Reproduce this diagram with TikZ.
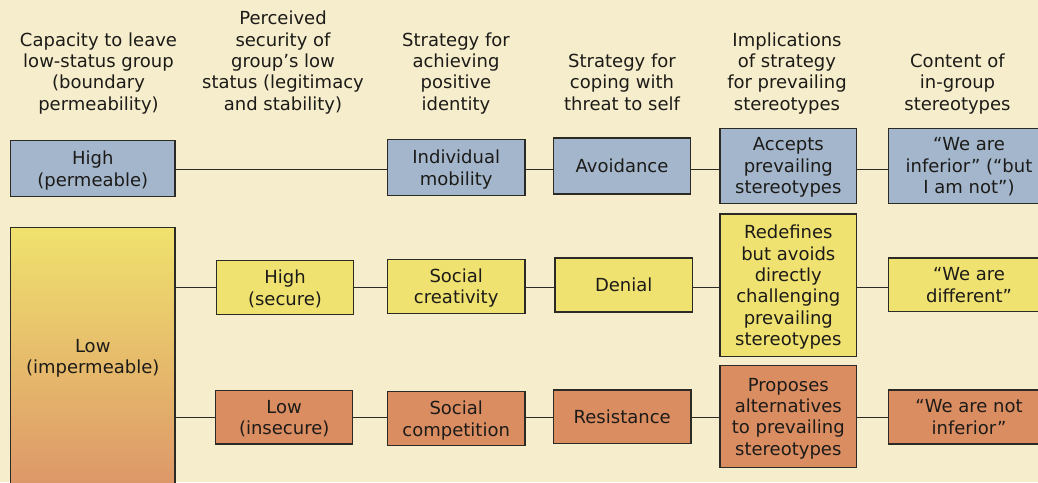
\documentclass[tikz,border=0pt]{standalone}
\usepackage{fontspec}
\setmainfont{DejaVu Sans}
\definecolor{paper}{HTML}{F5EDCB}
\definecolor{ink}{HTML}{1C1B18}
\definecolor{edge}{HTML}{2B2A24}
\definecolor{bluefill}{HTML}{A3B6CC}
\definecolor{yellowfill}{HTML}{F0E270}
\definecolor{orangefill}{HTML}{DB8D62}
\definecolor{gradtop}{HTML}{F0E26E}
\definecolor{gradbottom}{HTML}{DD9769}
\begin{document}
\begin{tikzpicture}[x=1pt,y=-1pt,
  font=\fontsize{18}{21.4}\selectfont,
  every node/.style={text=ink},
  head/.style={align=center, inner sep=0pt},
  box/.style={draw=edge, line width=1.4pt, inner sep=0pt, align=center, text depth=0pt},
  bluebox/.style={box, fill=bluefill},
  yellowbox/.style={box, fill=yellowfill},
  orangebox/.style={box, fill=orangefill},
  link/.style={draw=edge, line width=1.2pt}]
\useasboundingbox (0,0) rectangle (1038,482);
\fill[paper] (0,0) rectangle (1038,482);

% column headings
\node[head] (h1) at (98.5,73.3) {Capacity to leave\\low-status group\\(boundary\\permeability)};
\node[head] (h2) at (283,62.6) {Perceived\\security of\\group’s low\\status (legitimacy\\and stability)};
\node[head] (h3) at (456,73.3) {Strategy for\\achieving\\positive\\identity};
\node[head] (h4) at (622,81.9) {Strategy for\\coping with\\threat to self};
\node[head] (h5) at (787,73.3) {Implications\\of strategy\\for prevailing\\stereotypes};
\node[head] (h6) at (957.5,84) {Content of\\in-group\\stereotypes};

% row heights of the connectors
\coordinate (r1) at (0,169.5);
\coordinate (r2) at (0,287.3);
\coordinate (r3) at (0,417.3);

\begin{scope}
\clip (0,0) rectangle (1038,482);
% boundary permeability
\node[bluebox, minimum width=164.5pt, minimum height=56.4pt] (hp) at (92.75,168.5) {High\\(permeable)};
\node[box, top color=gradtop, bottom color=gradbottom, minimum width=164.5pt, minimum height=259pt] (li) at (92.75,356.7) {Low\\(impermeable)};
% security of status
\node[yellowbox, minimum width=136.6pt, minimum height=53.6pt] (hs) at (285,287.5) {High\\(secure)};
\node[orangebox, minimum width=137pt, minimum height=53.3pt] (ls) at (284.2,417.3) {Low\\(insecure)};
% identity strategy
\node[bluebox, minimum width=137.7pt, minimum height=56.4pt] (im) at (456.2,167.5) {Individual\\mobility};
\node[yellowbox, minimum width=137.7pt, minimum height=54pt] (sc) at (456.2,286.3) {Social\\creativity};
\node[orangebox, minimum width=137.7pt, minimum height=53.6pt] (scp) at (456.2,418.5) {Social\\competition};
% coping with threat
\node[bluebox, minimum width=137.4pt, minimum height=56pt] (av) at (622,166) {Avoidance};
\node[yellowbox, minimum width=137.3pt, minimum height=54pt] (de) at (623.7,285) {Denial};
\node[orangebox, minimum width=137.7pt, minimum height=53.7pt] (re) at (622.2,416.85) {Resistance};
% implications for stereotypes
\node[bluebox, minimum width=136.7pt, minimum height=75pt] (ap) at (788.3,165.8) {Accepts\\prevailing\\stereotypes};
\node[yellowbox, minimum width=136.7pt, minimum height=142.7pt] (rd) at (788.3,285.3) {Redefines\\but avoids\\directly\\challenging\\prevailing\\stereotypes};
\node[orangebox, minimum width=136.7pt, minimum height=102pt] (pa) at (788.3,416.7) {Proposes\\alternatives\\to prevailing\\stereotypes};
% in-group stereotypes
\node[bluebox, minimum width=161.4pt, minimum height=75pt] (wi) at (969,165.8) {“We are\\inferior” (“but\\I am not”)};
\node[yellowbox, minimum width=161.4pt, minimum height=53.7pt] (wd) at (969,284.85) {“We are\\different”};
\node[orangebox, minimum width=161.4pt, minimum height=54pt] (wn) at (969,417) {“We are not\\inferior”};
\end{scope}

% connectors
\path[link] (hp.east |- r1) -- (im.west |- r1);
\path[link] (im.east |- r1) -- (av.west |- r1);
\path[link] (av.east |- r1) -- (ap.west |- r1);
\path[link] (ap.east |- r1) -- (wi.west |- r1);

\path[link] (li.east |- r2) -- (hs.west |- r2);
\path[link] (hs.east |- r2) -- (sc.west |- r2);
\path[link] (sc.east |- r2) -- (de.west |- r2);
\path[link] (de.east |- r2) -- (rd.west |- r2);
\path[link] (rd.east |- r2) -- (wd.west |- r2);

\path[link] (li.east |- r3) -- (ls.west |- r3);
\path[link] (ls.east |- r3) -- (scp.west |- r3);
\path[link] (scp.east |- r3) -- (re.west |- r3);
\path[link] (re.east |- r3) -- (pa.west |- r3);
\path[link] (pa.east |- r3) -- (wn.west |- r3);
\end{tikzpicture}
\end{document}
